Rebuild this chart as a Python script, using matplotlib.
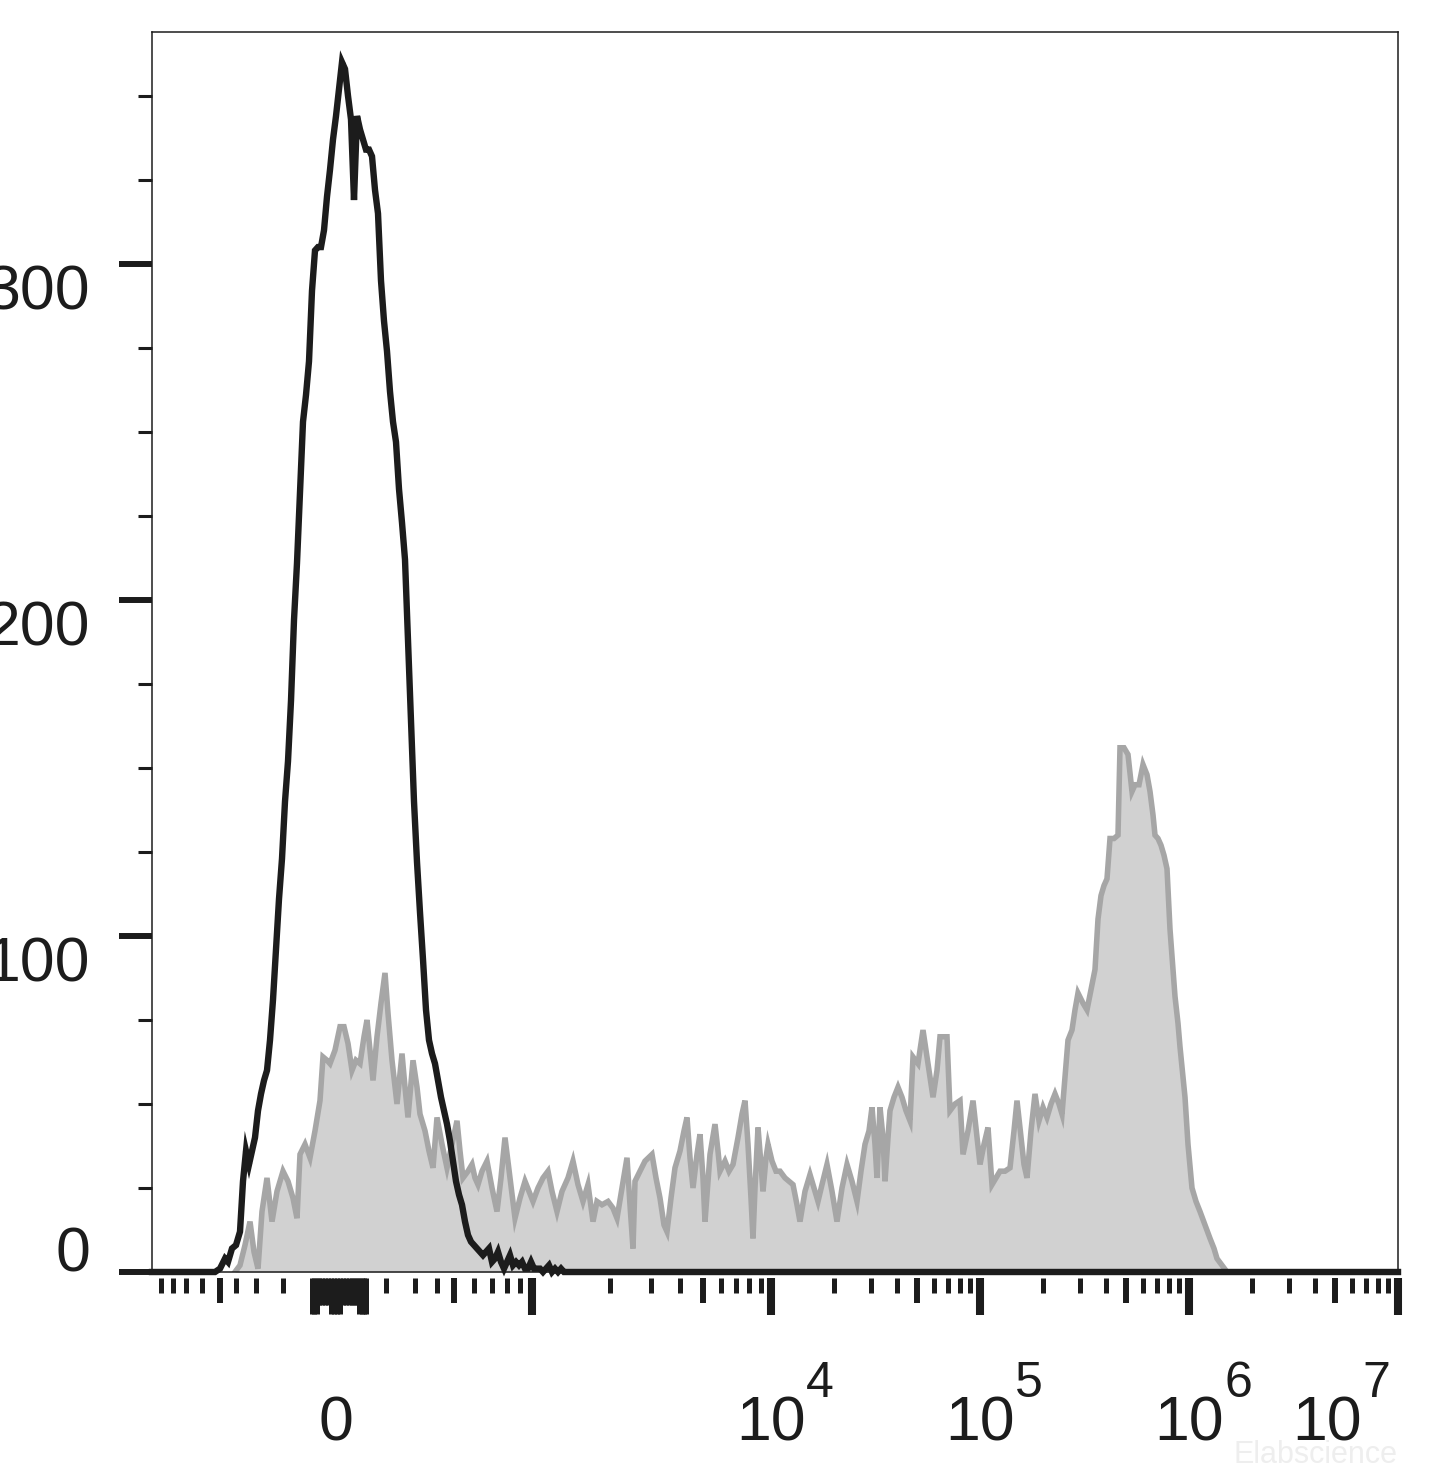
import numpy as np
import matplotlib
matplotlib.use("Agg")
import matplotlib.pyplot as plt
from matplotlib import font_manager
from matplotlib.transforms import blended_transform_factory

# display channel range of the plot (biexponential display)
CH_MIN, CH_MAX = 152, 1398

# value -> display channel anchors of the biexponential axis
ANCHOR_VALUES = [-1000, -500, -200, -100, 0, 100, 200, 500, 1000, 2000, 5000, 1e4, 1e7]
ANCHOR_CHANNELS = [150, 220, 283, 312, 340, 366, 386, 454, 532, 610, 703, 771, 1398]

# isotype control (black outline)
black_ch = [215, 220, 225, 228, 232, 236, 240, 243, 246, 249, 252, 255, 258, 261, 264, 267,
            270, 273, 276, 279, 282, 285, 288, 291, 294, 297, 300, 303, 306, 309, 312, 315,
            318, 321, 324, 327, 330, 333, 336, 339, 342, 345, 348, 351, 354, 357, 360, 363,
            366, 369, 372, 375, 378, 381, 384, 387, 390, 393, 396, 399, 402, 405, 408, 411,
            414, 417, 420, 423, 426, 429, 432, 435, 438, 441, 444, 447, 450, 453, 456, 459,
            462, 465, 468, 471, 474, 477, 480, 483, 486, 489, 492, 495, 498, 501, 504, 507,
            510, 513, 516, 519, 522, 525, 528, 531, 534, 537, 540, 543, 546, 549, 552, 555,
            558, 561, 564, 567]
black_count = [0, 1, 4, 3, 7, 8, 12, 27, 36, 32, 36, 40, 48, 53, 57, 60,
               69, 81, 96, 111, 123, 140, 152, 170, 194, 211, 232, 253, 261, 271, 292, 304,
               305, 305, 310, 320, 328, 337, 344, 352, 360, 358, 350, 343, 319, 344, 340, 337,
               334, 334, 332, 322, 315, 295, 283, 274, 262, 253, 247, 233, 223, 212, 188, 164,
               140, 122, 107, 93, 78, 69, 65, 62, 57, 52, 48, 44, 39, 33, 27, 23,
               20, 15, 11, 9, 8, 7, 6, 5, 6, 7, 3, 4, 6, 3, 1, 3,
               5, 2, 3, 2, 3, 1, 1, 3, 1, 1, 1, 0, 1, 2, 0, 1,
               0, 1, 0, 0]

# stained sample (grey filled)
gray_ch = [235, 240, 245, 250, 254, 258, 262, 267, 272, 277, 283, 288, 293, 297, 300, 305,
           310, 315, 320, 323, 327, 330, 335, 340, 344, 348, 352, 356, 360, 364, 367, 370,
           373, 377, 381, 385, 388, 392, 397, 402, 405, 408, 413, 417, 420, 425, 429, 433,
           437, 442, 447, 452, 457, 460, 463, 468, 472, 475, 478, 482, 487, 492, 497, 501,
           505, 510, 515, 520, 525, 529, 533, 538, 543, 548, 552, 557, 562, 568, 573, 578,
           583, 588, 593, 597, 602, 608, 613, 617, 622, 627, 630, 633, 635, 640, 645, 652,
           656, 660, 664, 667, 671, 675, 680, 684, 687, 690, 693, 697, 700, 703, 705, 710,
           715, 718, 720, 725, 729, 733, 738, 742, 745, 748, 751, 753, 755, 758, 761, 763,
           766, 768, 772, 776, 780, 785, 789, 793, 797, 800, 805, 810, 814, 818, 822, 827,
           832, 837, 842, 847, 852, 857, 861, 865, 869, 872, 875, 877, 880, 883, 885, 888,
           890, 894, 898, 902, 906, 910, 913, 918, 923, 928, 933, 937, 940, 944, 947, 950,
           955, 960, 963, 968, 973, 977, 980, 984, 988, 992, 996, 1000, 1005, 1010, 1014, 1017,
           1021, 1024, 1027, 1031, 1035, 1039, 1043, 1047, 1051, 1055, 1059, 1062, 1065, 1068, 1072, 1075,
           1078, 1083, 1087, 1091, 1095, 1098, 1101, 1104, 1107, 1110, 1114, 1118, 1120, 1124, 1128, 1132,
           1135, 1139, 1143, 1147, 1150, 1153, 1155, 1158, 1161, 1164, 1167, 1170, 1173, 1175, 1178, 1180,
           1183, 1185, 1188, 1192, 1196, 1200, 1205, 1210, 1214, 1217, 1222, 1227]
gray_count = [0, 2, 8, 15, 6, 1, 18, 28, 15, 24, 30, 27, 22, 16, 35, 38,
              34, 42, 51, 64, 63, 62, 66, 73, 73, 68, 60, 63, 62, 70, 75, 66,
              57, 70, 80, 89, 77, 63, 50, 65, 55, 46, 63, 55, 47, 42, 36, 31,
              46, 38, 31, 38, 45, 36, 28, 30, 32, 28, 26, 30, 33, 25, 18, 28,
              40, 28, 16, 22, 27, 24, 21, 25, 28, 30, 24, 18, 24, 28, 33, 26,
              21, 26, 15, 21, 20, 21, 19, 16, 25, 34, 20, 7, 27, 30, 33, 35,
              28, 22, 14, 12, 22, 31, 36, 42, 46, 34, 25, 35, 41, 28, 15, 35,
              44, 36, 30, 33, 30, 32, 40, 47, 51, 38, 22, 10, 25, 43, 32, 24,
              34, 38, 33, 30, 30, 28, 27, 26, 20, 15, 24, 29, 25, 21, 26, 32,
              24, 15, 25, 32, 27, 21, 30, 38, 42, 49, 38, 28, 49, 40, 27, 40,
              48, 52, 55, 52, 48, 45, 64, 62, 72, 62, 52, 60, 70, 70, 70, 48,
              50, 51, 35, 42, 51, 40, 32, 38, 43, 26, 28, 30, 30, 31, 42, 51,
              40, 32, 28, 42, 53, 45, 49, 46, 50, 53, 50, 47, 58, 69, 72, 78,
              83, 80, 78, 84, 90, 105, 112, 115, 117, 129, 129, 130, 156, 156, 154, 143,
              145, 145, 151, 148, 143, 136, 130, 129, 127, 124, 120, 102, 90, 82, 74, 67,
              58, 52, 38, 25, 21, 18, 14, 10, 7, 4, 2, 0]

y_major = [0, 100, 200, 300]
y_minor = [25, 50, 75, 125, 150, 175, 225, 250, 275, 325, 350]

x_small = [-900, -800, -700, -600, -400, -300, -200, 200, 300, 400, 600, 700, 800, 900,
           2000, 3000, 4000, 6000, 7000, 8000, 9000,
           2e4, 3e4, 4e4, 6e4, 7e4, 8e4, 9e4,
           2e5, 3e5, 4e5, 6e5, 7e5, 8e5, 9e5,
           2e6, 3e6, 4e6, 6e6, 7e6, 8e6, 9e6]
x_medium = [-500, 500, 5000, 5e4, 5e5, 5e6]
x_big = [1000, 1e4, 1e5, 1e6, 1e7]
x_cluster_long = [-100, -90, -80, -30, -20, -10, 0, 70, 80, 90, 100]
x_cluster_mid = [-70, -60, -50, -40, 10, 20, 30, 40, 50, 60]
x_label_exp = [4, 5, 6, 7]


def to_channel(v):
    v = np.asarray(v, dtype=float)
    return np.interp(np.arcsinh(v / 100.0),
                     np.arcsinh(np.array(ANCHOR_VALUES) / 100.0),
                     ANCHOR_CHANNELS)


names = {f.name for f in font_manager.fontManager.ttflist}
fam = ["Liberation Sans Narrow", "Liberation Sans", "DejaVu Sans"]
fam = [f for f in fam if f in names] or ["DejaVu Sans"]
plt.rcParams["font.family"] = fam

INK = "#1c1c1c"
W, H = 1445, 1474
fig = plt.figure(figsize=(W / 100, H / 100), dpi=100)
ax = fig.add_axes([CH_MIN / W, 1 - 1272 / H, (CH_MAX - CH_MIN) / W, 1240 / H])
ax.set_xlim(CH_MIN, CH_MAX)
ax.set_ylim(0, 369)

# grey filled histogram
ax.fill_between(gray_ch, gray_count, 0, color="#d1d1d1", lw=0, zorder=1)
ax.plot(gray_ch, gray_count, color="#a6a6a6", lw=4.0, solid_joinstyle="miter", zorder=2)

# black isotype histogram, running along zero over the whole axis
bx = np.concatenate([[CH_MIN], black_ch, [CH_MAX]])
by = np.concatenate([[0], black_count, [0]])
ax.plot(bx, by, color=INK, lw=4.6, solid_joinstyle="miter", zorder=3, clip_on=False)

# spines
for s in ["left", "top", "right", "bottom"]:
    ax.spines[s].set_linewidth(1.1)
    ax.spines[s].set_color(INK)

# y ticks
ax.set_yticks(y_major)
ax.set_yticks(y_minor, minor=True)
ax.tick_params(axis="y", which="major", length=24, width=4.3, color=INK, labelleft=False)
ax.tick_params(axis="y", which="minor", length=10, width=2.2, color=INK)
ax.set_xticks([])

for v in y_major:
    va = "baseline" if v == 0 else "top"
    ax.annotate(str(v), xy=(0, v), xycoords=("axes fraction", "data"),
                xytext=(-62, 0), textcoords="offset pixels",
                ha="right", va=va, fontsize=45, color=INK)

# x ticks, hanging below the axis
tr = blended_transform_factory(ax.transData, ax.transAxes)
px = 1.0 / 1240
top = -6 * px
ax.vlines(to_channel(x_small), top, -21 * px, transform=tr, colors=INK,
          lw=3.6, clip_on=False, capstyle="butt")
ax.vlines(to_channel(x_medium), top, -31 * px, transform=tr, colors=INK,
          lw=4.3, clip_on=False, capstyle="butt")
ax.vlines(to_channel(x_big), top, -43 * px, transform=tr, colors=INK,
          lw=5.8, clip_on=False, capstyle="butt")
ax.vlines(to_channel(x_cluster_long), top, -42 * px, transform=tr, colors=INK,
          lw=3.6, clip_on=False, capstyle="butt")
ax.vlines(to_channel(x_cluster_mid), top, -33 * px, transform=tr, colors=INK,
          lw=3.6, clip_on=False, capstyle="butt")

# x labels
ax.annotate("0", xy=(to_channel(0) - 4, 0), xycoords=("data", "axes fraction"),
            xytext=(0, -152), textcoords="offset pixels", ha="center", va="center",
            fontsize=45, color=INK)
for e in x_label_exp:
    c = float(to_channel(10.0 ** e))
    shift = -71 if e == 7 else 0
    ax.annotate("10", xy=(c, 0), xycoords=("data", "axes fraction"),
                xytext=(shift, -152), textcoords="offset pixels", ha="center", va="center",
                fontsize=45, color=INK)
    ax.annotate(str(e), xy=(c, 0), xycoords=("data", "axes fraction"),
                xytext=(shift + 49, -112), textcoords="offset pixels", ha="center", va="center",
                fontsize=36, color=INK)

# faint watermark
fig.text(1315 / W, 1 - 1455 / H, "Elabscience", ha="center", va="center",
         fontsize=22, color="#eeeeee")

fig.savefig("out.png", dpi=100)
